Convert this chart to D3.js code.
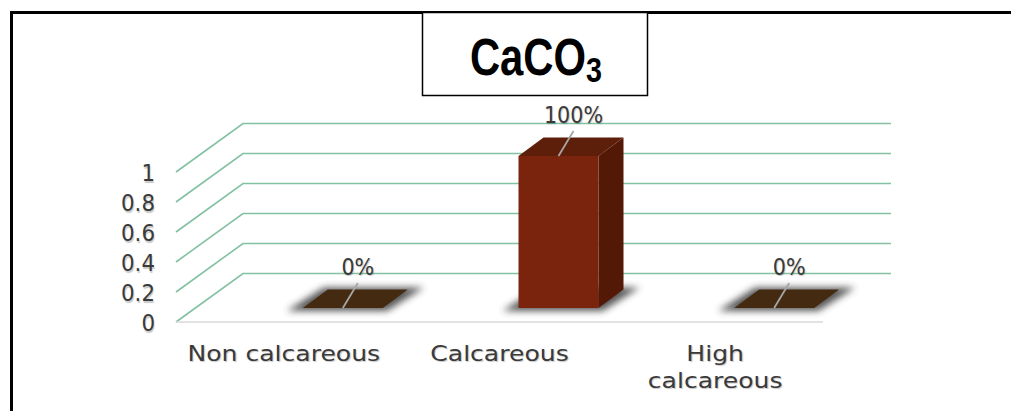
<!DOCTYPE html>
<html>
<head>
<meta charset="utf-8">
<script src="https://cdn.jsdelivr.net/npm/d3@7"></script>
<style>
  html, body { margin: 0; padding: 0; background: #fff; }
  svg { display: block; }
  .lbl { font-family: "DejaVu Sans", sans-serif; fill: #3a3a3a; text-shadow: 1px 1px 1px rgba(0,0,0,0.22); }
</style>
</head>
<body>
<svg id="chart" width="1011" height="411"></svg>
<script>
// Soil carbonate classes and the share of samples in each
const categories = ["Non calcareous", "Calcareous", "High\ncalcareous"];
const values = [0, 1, 0];
const valueLabels = ["0%", "100%", "0%"];
const yTicks = [0, 0.2, 0.4, 0.6, 0.8, 1];
const yTickLabels = ["0", "0.2", "0.4", "0.6", "0.8", "1"];

const svg = d3.select("#chart");

// Oblique 3D projection: depth pushes points right and up
const depth = { dx: 67, dy: -48.5 };
const barDepth = { dx: 25, dy: -18.5 };

const x = d3.scaleBand().domain(categories).range([176, 823]);
const y = d3.scaleLinear().domain([0, 1]).range([322, 172]);
// bars sit partway into the floor, so their baseline is raised
const yBar = d3.scaleLinear().domain([0, 1]).range([308, 156]);
const barW = 80, barShift = 59;

// stretch or squeeze a label horizontally about its anchor
function widen(sel, k) {
  sel.each(function () {
    const ax = +this.getAttribute("x");
    this.setAttribute("transform", `translate(${ax},0) scale(${k},1) translate(${-ax},0)`);
  });
}

const defs = svg.append("defs");
defs.append("filter").attr("id", "shadow").attr("x", "-30%").attr("y", "-100%")
  .attr("width", "160%").attr("height", "300%")
  .append("feGaussianBlur").attr("stdDeviation", 3.5);

// outer frame
svg.append("path").attr("d", "M11.5,1011 V12.5 H1011")
  .attr("fill", "none").attr("stroke", "#000").attr("stroke-width", 3);

// side wall and back wall gridlines
const grid = svg.append("g").attr("fill", "none").attr("stroke", "#83c1a3").attr("stroke-width", 1.6);
yTicks.forEach(v => {
  const fy = y(v);
  grid.append("path").attr("d",
    `M${x.range()[0]},${fy} L${x.range()[0] + depth.dx},${fy + depth.dy} H${x.range()[1] + depth.dx + 1}`);
});
// floor front edge
svg.append("line").attr("x1", x.range()[0]).attr("x2", x.range()[1])
  .attr("y1", y(0)).attr("y2", y(0)).attr("stroke", "#d9d9d9").attr("stroke-width", 1.6);

// y tick labels
svg.append("g").selectAll("text").data(yTicks).join("text")
  .attr("class", "lbl").attr("x", 155).attr("y", d => y(d) + 9.5)
  .attr("text-anchor", "end").attr("font-size", 23)
  .text((d, i) => yTickLabels[i])
  .call(widen, 0.93);

// bars
const bars = svg.append("g");
categories.forEach((c, i) => {
  const x0 = x(c) + x.bandwidth() / 2 - barW / 2 + barShift;
  const x1 = x0 + barW;
  const b = yBar(0), t = yBar(values[i]);
  const dx = barDepth.dx, dy = barDepth.dy;
  const g = bars.append("g");
  // soft floor shadow
  g.append("path").attr("d",
    `M${x0 - 16},${b + 3} L${x1 + 4},${b + 3} L${x1 + dx + 16},${b + dy - 2} L${x0 + dx - 4},${b + dy - 2} Z`)
    .attr("fill", "#3a3a3a").attr("opacity", 0.85).attr("filter", "url(#shadow)");
  if (values[i] > 0) {
    g.append("path").attr("d", `M${x1},${b} L${x1 + dx},${b + dy} L${x1 + dx},${t + dy} L${x1},${t} Z`)
      .attr("fill", "#541906");
    g.append("rect").attr("x", x0).attr("y", t).attr("width", barW).attr("height", b - t)
      .attr("fill", "#7b240d");
    g.append("path").attr("d", `M${x0},${t} L${x0 + dx},${t + dy} L${x1 + dx},${t + dy} L${x1},${t} Z`)
      .attr("fill", "#5d1e0a");
  } else {
    g.append("path").attr("d", `M${x0},${t} L${x0 + dx},${t + dy} L${x1 + dx},${t + dy} L${x1},${t} Z`)
      .attr("fill", "#432a11");
  }
  // value label with leader line
  const cx = (x0 + x1) / 2;
  const lx = cx + 15;
  g.append("line").attr("x1", lx).attr("y1", t - 25).attr("x2", cx).attr("y2", t)
    .attr("stroke", "#a6a6a6").attr("stroke-width", 1.8);
  g.append("text").attr("class", "lbl").attr("x", lx).attr("y", t - 33)
    .attr("text-anchor", "middle").attr("font-size", 23).text(valueLabels[i])
    .call(widen, 0.9);
});

// category labels
svg.append("g").selectAll("text").data(categories).join("text")
  .attr("class", "lbl").attr("text-anchor", "middle").attr("font-size", 22)
  .attr("x", d => x(d) + x.bandwidth() / 2).attr("y", 361)
  .each(function (d) {
    const lines = d.split("\n");
    const t = d3.select(this);
    lines.forEach((ln, k) => {
      t.append("tspan").attr("x", x(d) + x.bandwidth() / 2).attr("dy", k === 0 ? 0 : 27).text(ln);
    });
  })
  .call(widen, 1.14);

// title box
svg.append("rect").attr("x", 422.5).attr("y", 12.5).attr("width", 225).attr("height", 83)
  .attr("fill", "#fff").attr("stroke", "#000").attr("stroke-width", 1.5);
const title = svg.append("text").attr("x", 536).attr("y", 75).attr("text-anchor", "middle")
  .attr("font-family", "'Liberation Sans', Arial, sans-serif")
  .attr("font-weight", "bold").attr("font-size", 51).attr("fill", "#000")
  .attr("transform", "translate(536,0) scale(0.82,1) translate(-536,0)");
title.append("tspan").text("CaCO");
title.append("tspan").attr("font-size", 35).attr("dy", 7).text("3");
</script>
</body>
</html>
